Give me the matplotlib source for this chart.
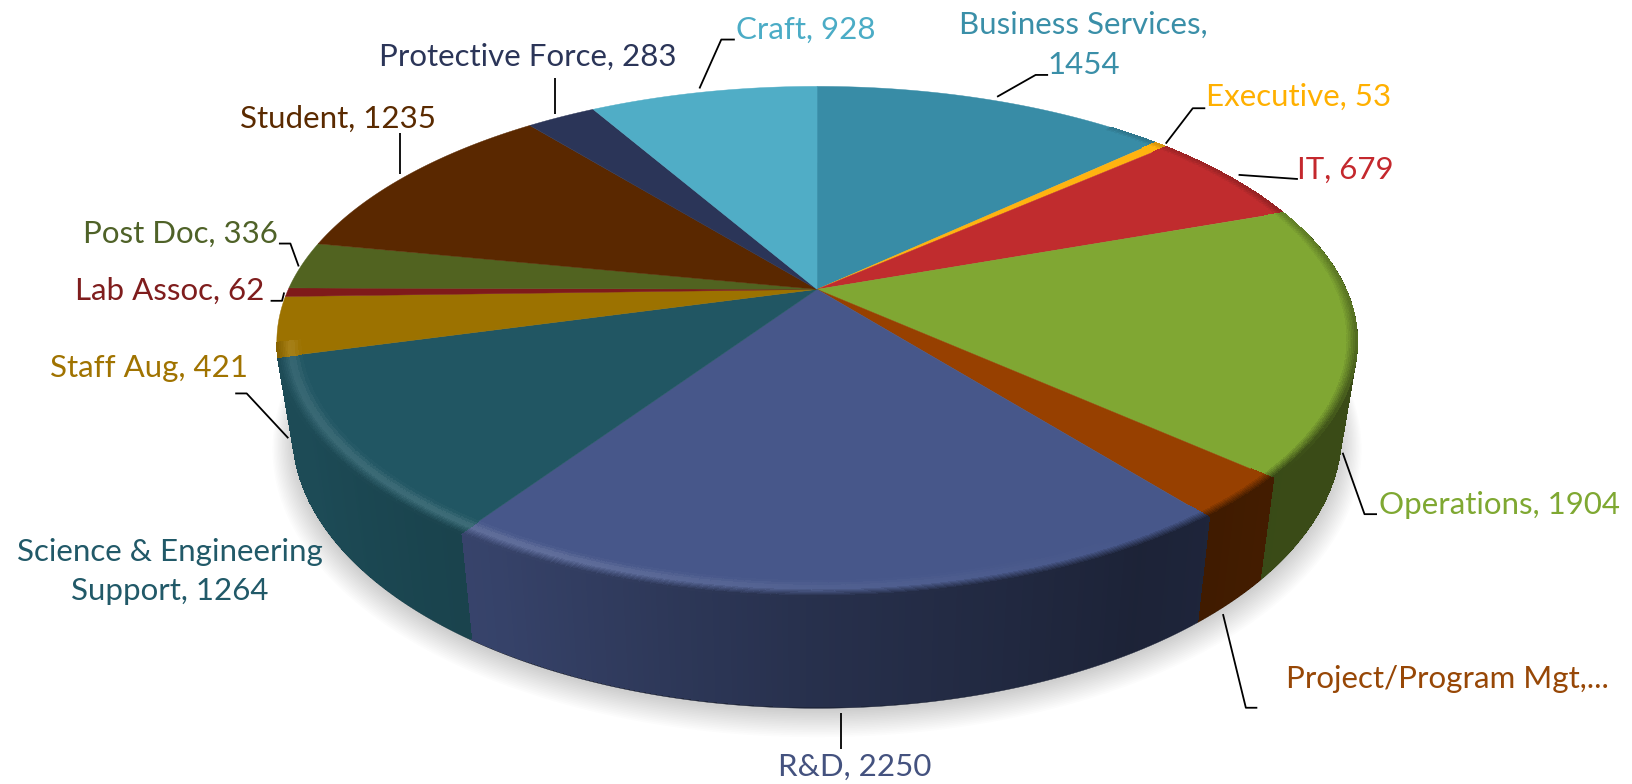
# 3d pie of headcount by category
import numpy as np
import matplotlib
matplotlib.use("Agg")
import matplotlib.pyplot as plt
from matplotlib.collections import PolyCollection

categories = ["Business Services", "Executive", "IT", "Operations", "Project/Program Mgt",
              "R&D", "Science & Engineering Support", "Staff Aug", "Lab Assoc", "Post Doc",
              "Student", "Protective Force", "Craft"]
values = [1454, 53, 679, 1904, 300, 2250, 1264, 421, 62, 336, 1235, 283, 928]

top_colors = ["#388CA6", "#FFB310", "#C02C2E", "#80A733", "#974000", "#47578A", "#215663",
              "#9C7200", "#7F1A1A", "#516320", "#5A2800", "#2B3558", "#50ADC6"]
text_colors = ["#3A8FA8", "#FFB000", "#C4282D", "#7FA832", "#974706", "#44527F", "#215968",
               "#A07300", "#7F1D1D", "#4F6228", "#5A2A00", "#2B3558", "#4BACC6"]

# label text, position in the reference (1568 wide) and leader line
labels = [
    ("Business Services,\n1454", 1041, 43, [(958, 93), (995, 72), (1007, 72)]),
    ("Executive, 53", 1248, 93, [(1120, 138), (1146, 104), (1158, 104)]),
    ("IT, 679", 1293, 163, [(1190, 168), (1247, 172)]),
    ("Operations, 1904", 1441, 485, [(1290, 435), (1311, 494), (1323, 494)]),
    ("Project/Program Mgt,...", 1391, 652, [(1175, 590), (1197, 680), (1208, 680)]),
    ("R&D, 2250", 821, 737, [(808, 685), (808, 720)]),
    ("Science & Engineering\nSupport, 1264", 163, 549, []),
    ("Staff Aug, 421", 143, 354, [(277, 421), (237, 378), (226, 378)]),
    ("Lab Assoc, 62", 163, 279, [(273, 281), (271, 289), (260, 289)]),
    ("Post Doc, 336", 173, 225, [(287, 256), (279, 234), (268, 234)]),
    ("Student, 1235", 325, 114, [(384, 167), (384, 128)]),
    ("Protective Force, 283", 507, 55, [(533, 110), (533, 75)]),
    ("Craft, 928", 774, 29, [(672, 85), (693, 38), (706, 38)]),
]

S = 1632 / 1568
CX, CY = 785 * S, 278 * S
A, B = 508 * S, 235 * S
K = 0.205
THICK = 85 * S
PINCH = 0.03


def project(t, r=1.0, z=0.0):
    # t in degrees clockwise from the top, r radius, z depth below the top face
    rad = np.radians(t)
    u, v = r * np.sin(rad), -r * np.cos(rad)
    d = 1 - K * v
    return CX + A * u * (1 - PINCH * z) / d, CY + (B * v + THICK * z) / d


def shade(color, f):
    return np.clip(np.array(matplotlib.colors.to_rgb(color)) * f, 0, 1)


def mix(c1, c2, w):
    return np.array(c1) * (1 - w) + np.array(c2) * w


def quad(t0, t1, r0, r1, z0, z1):
    pts = [project(t0, r0, z0), project(t1, r0, z0), project(t1, r1, z1), project(t0, r1, z1)]
    return [(float(a), float(b)) for a, b in pts]


fig = plt.figure(figsize=(16.32, 7.84), dpi=100)
ax = fig.add_axes([0, 0, 1, 1])
ax.set_xlim(0, 1632)
ax.set_ylim(784, 0)
ax.axis("off")

edges = np.concatenate([[0], np.cumsum(values)]) / sum(values) * 360

# soft shadow under the disc
ring = np.linspace(0, 360, 361)
for grow in np.linspace(1.04, 1.0, 16):
    x, y = project(ring, grow, 1.0 + (grow - 1) * 2)
    ax.fill(x, y + 3 * S, color="black", alpha=0.013, lw=0, zorder=1)

side_t = [0, 90, 130, 150, 180, 210, 240, 270, 360]
side_f = [0.45, 0.45, 0.45, 0.40, 0.55, 0.76, 0.87, 0.87, 0.87]
glow_t = [0, 150, 180, 205, 240, 256, 360]
glow_w = [0.0, 0.0, 0.06, 0.15, 0.12, 0.1, 0.0]
SIDE_FROM, SIDE_TO = 75, 254.5

# side wall: a plain outline per slice, then fine strips for the gradient
polys, cols = [], []
for start, end, col in zip(edges[:-1], edges[1:], top_colors):
    t0, t1 = max(start, SIDE_FROM), min(end, SIDE_TO)
    if t1 <= t0:
        continue
    steps = np.linspace(t0, t1, max(int(t1 - t0) * 2, 3))
    xa, ya = project(steps, 1, 0)
    xb, yb = project(steps[::-1], 1, 1)
    mid = np.interp((t0 + t1) / 2, side_t, side_f) * 0.8
    ax.fill(np.r_[xa, xb], np.r_[ya, yb], color=shade(col, mid), lw=0.3, zorder=2)
    for a, b in zip(steps[:-1], steps[1:]):
        polys.append(quad(a, b, 1, 1, 0, 0.985))
        cols.append(shade(col, np.interp((a + b) / 2, side_t, side_f)))
ax.add_collection(PolyCollection(polys, facecolors=cols, edgecolors=cols, linewidths=0.5,
                                 antialiaseds=False, zorder=2.5))

# top face
for start, end, col in zip(edges[:-1], edges[1:], top_colors):
    t = np.linspace(start, end, max(int(end - start) * 2, 3))
    x, y = project(t)
    ax.fill(np.r_[CX, x], np.r_[CY, y], color=col, lw=0.3, zorder=3)

# bevel on the rim: light on the front left, dark into the side elsewhere
rs = [(0.958, 0.0), (0.964, 0.3), (0.970, 0.7), (0.976, 1.0), (0.982, 0.8), (0.985, 0.6),
      (0.988, 0.45), (0.991, 0.3), (0.994, 0.2), (0.997, 0.1), (1.0, 0.0)]
polys, cols = [], []
for start, end, col in zip(edges[:-1], edges[1:], top_colors):
    t_lo, t_hi = max(start, 40), min(end, 258)
    if t_hi <= t_lo:
        continue
    steps = np.linspace(t_lo, t_hi, max(int(t_hi - t_lo) * 2, 3))
    for t0, t1 in zip(steps[:-1], steps[1:]):
        tm = (t0 + t1) / 2
        base = np.array(matplotlib.colors.to_rgb(col))
        side = shade(col, np.interp(tm, side_t, side_f))
        glow = np.interp(tm, glow_t, glow_w)
        reach = np.interp(tm, [40, 90, 130], [0.25, 0.5, 1.0])
        for (r0, p0), (r1, p1) in zip(rs[:-1], rs[1:]):
            frac = np.clip((r1 - 0.982) / 0.018, 0, 1) * reach
            colour = mix(mix(base, side, frac), [1, 1, 1], (p0 + p1) / 2 * glow)
            polys.append(quad(t0, t1, r0, r1, 0, 0))
            cols.append(colour)
ax.add_collection(PolyCollection(polys, facecolors=cols, edgecolors=cols, linewidths=0.3,
                                 antialiaseds=False, zorder=4))

# labels and leader lines
plt.rcParams["font.family"] = ["Lato", "DejaVu Sans"]
for (txt, lx, ly, leader), col in zip(labels, text_colors):
    ax.text(lx * S, ly * S, txt, color=col, fontsize=22.5, ha="center", va="center",
            linespacing=1.5, zorder=6)
    if leader:
        xs = [p[0] * S for p in leader]
        ys = [p[1] * S for p in leader]
        ax.plot(xs, ys, color="black", lw=1.3, zorder=5, solid_capstyle="butt")

fig.savefig("out.png", dpi=100, facecolor="white")
